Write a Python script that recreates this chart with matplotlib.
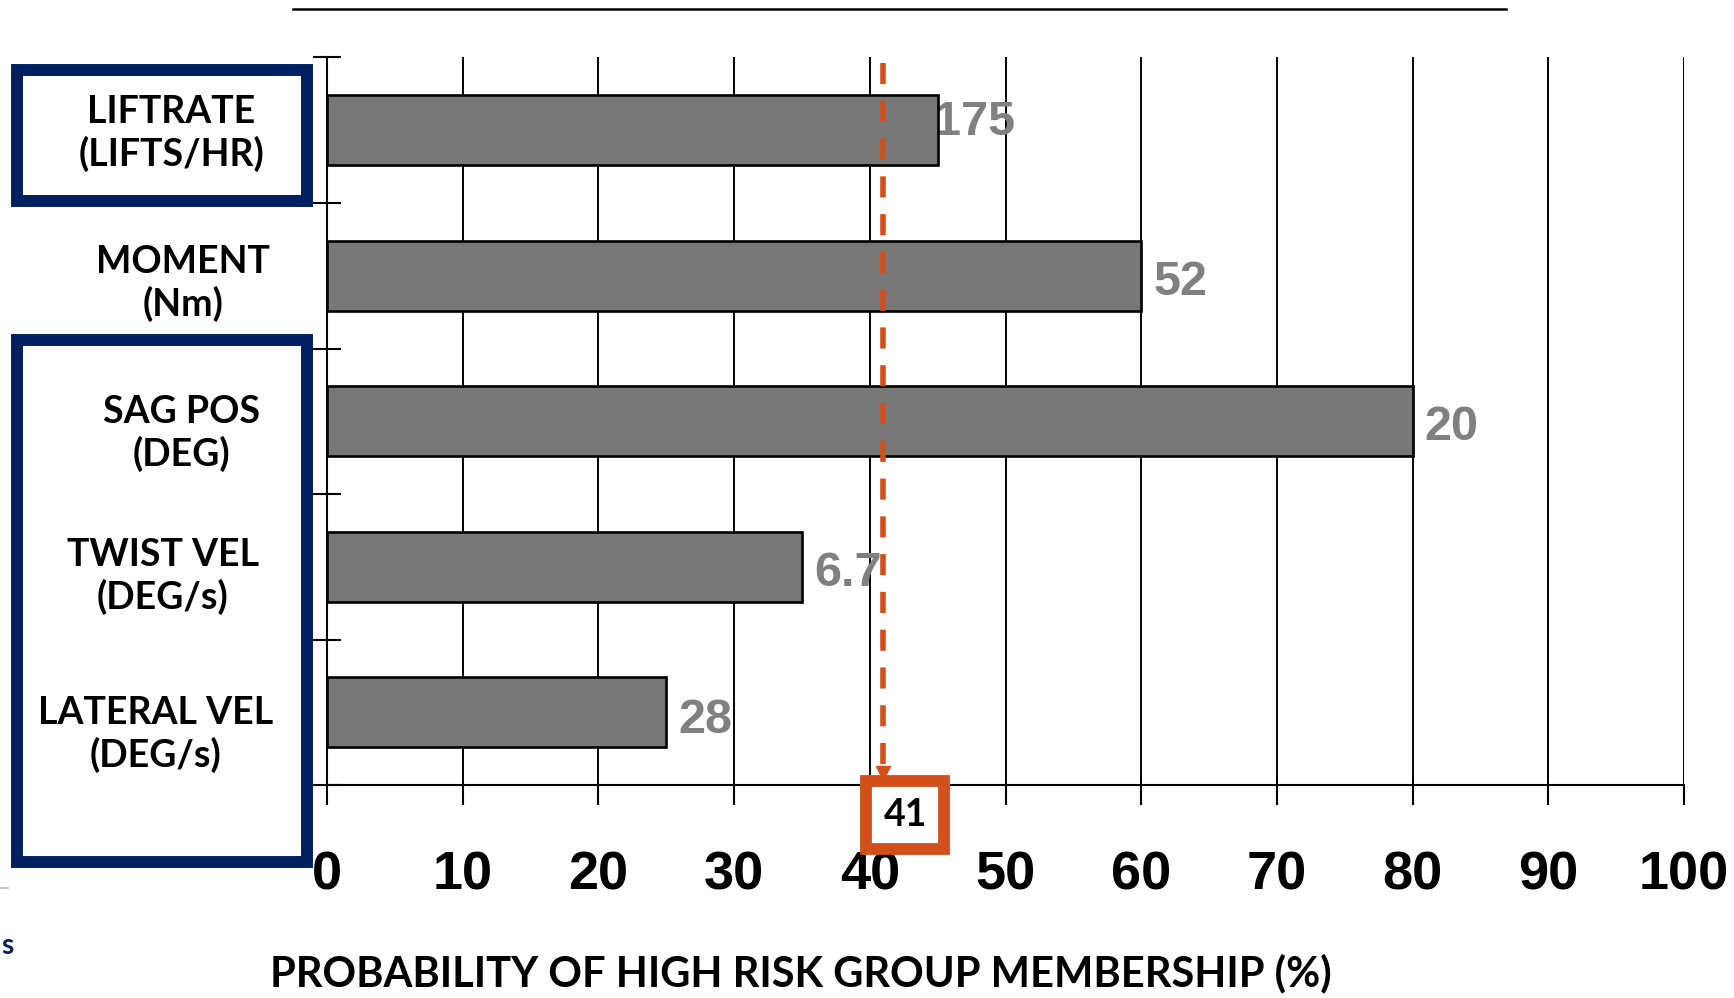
import matplotlib
matplotlib.use("Agg")
import matplotlib.pyplot as plt
from matplotlib.patches import Rectangle
from matplotlib.lines import Line2D
from matplotlib import font_manager

# ---- data ----
categories = ["LIFTRATE\n(LIFTS/HR)", "MOMENT\n(Nm)", "SAG POS\n(DEG)",
              "TWIST VEL\n(DEG/s)", "LATERAL VEL\n(DEG/s)"]
probability = [45, 60, 80, 35, 25]          # % probability of high-risk group
thresholds = ["175", "52", "20", "6.7", "28"]
overall_threshold = 41
x_ticks = [0, 10, 20, 30, 40, 50, 60, 70, 80, 90, 100]
x_label = "PROBABILITY OF HIGH RISK GROUP MEMBERSHIP (%)"

# ---- styling ----
NAVY = "#002060"
ORANGE = "#D24F1A"
BAR = "#777777"
VALUE_GREY = "#808080"

names = {f.name for f in font_manager.fontManager.ttflist}
TICK_FONT = ["Liberation Sans Narrow", "Liberation Sans", "DejaVu Sans"] \
    if "Liberation Sans Narrow" in names else ["Liberation Sans", "DejaVu Sans"]
LABEL_FONT = ["Lato", "DejaVu Sans"]

fig = plt.figure(figsize=(17.34, 9.98), dpi=100)
ax = fig.add_axes([0.1886, 0.2134, 0.7826, 0.729])

ypos = list(range(len(categories)))
ax.barh(ypos, probability, height=0.48, color=BAR, edgecolor="black",
        linewidth=1.9, zorder=3)

ax.set_xlim(0, 100)
ax.set_ylim(len(categories) - 0.5, -0.5)

# vertical grid lines
for xv in x_ticks:
    ax.axvline(xv, color="black", linewidth=1.4, zorder=1)

for s in ["top", "right"]:
    ax.spines[s].set_visible(False)
ax.spines["left"].set_linewidth(1.5)
ax.spines["bottom"].set_linewidth(1.5)

ax.set_xticks(x_ticks)
ax.set_xticklabels([str(v) for v in x_ticks], family=TICK_FONT,
                   fontweight="bold", fontsize=39)
ax.tick_params(axis="x", direction="out", length=14.5, width=1.5, pad=33)
ax.set_yticks([i - 0.5 for i in range(len(categories) + 1)])
ax.set_yticklabels([])
ax.tick_params(axis="y", direction="inout", length=20, width=1.5)

# threshold values at the end of each bar
label_dx = [-0.3, 0.9, 0.9, 0.9, 0.9]
label_dy = [-0.055, 0.045, 0.045, 0.045, 0.055]
for y, v, t, dx, dy in zip(ypos, probability, thresholds, label_dx, label_dy):
    ax.text(v + dx, y + dy, t, ha="left", va="center", fontsize=35,
            fontweight="bold", color=VALUE_GREY,
            family=["Liberation Sans", "DejaVu Sans"], zorder=2.5)

# overall cut-off line with arrow down to the boxed value
ax.plot([overall_threshold, overall_threshold], [-0.46, 4.40],
        color=ORANGE, linewidth=4, dashes=(3.8, 3.0), zorder=5,
        solid_capstyle="butt", clip_on=False)
ax.plot([overall_threshold], [4.42], marker="v", markersize=10,
        color=ORANGE, zorder=5, clip_on=False)

box_x = ax.transData.transform((overall_threshold, 0))[0]
fig_w = fig.get_size_inches()[0] * fig.dpi
bx = box_x / fig_w + 0.0125
fig.text(bx, 0.1835, str(overall_threshold), ha="center", va="center",
         fontsize=27, fontweight="bold", family=LABEL_FONT, color="black",
         zorder=10,
         bbox=dict(boxstyle="square,pad=0.45", facecolor="white",
                   edgecolor=ORANGE, linewidth=8.5))

# category labels on the left
label_pos = [(0.0989, 0.866), (0.1055, 0.716), (0.1046, 0.566),
             (0.0938, 0.422), (0.0896, 0.264)]
for (lx, ly), name in zip(label_pos, categories):
    fig.text(lx, ly, name, ha="center", va="center", fontsize=27,
             fontweight="bold", family=LABEL_FONT, linespacing=1.22)

# navy frames around the grouped variables
for (x0, y0, x1, y1) in [(17, 70, 307, 201), (17, 340, 307, 862)]:
    fig.patches.append(Rectangle((x0 / 1734, 1 - y1 / 998),
                                 (x1 - x0) / 1734, (y1 - y0) / 998,
                                 transform=fig.transFigure, fill=False,
                                 edgecolor=NAVY, linewidth=8.6, zorder=6))

# header rule
fig.add_artist(Line2D([0.169, 0.8685], [0.991, 0.991], color="black",
                      linewidth=1.8, transform=fig.transFigure))
fig.add_artist(Line2D([0.0, 0.0046], [0.110, 0.110], color="#bbbbbb",
                      linewidth=1.2, transform=fig.transFigure))
fig.text(0.0005, 0.052, "s", ha="left", va="center", fontsize=20,
         fontweight="bold", color=NAVY, family=LABEL_FONT)

fig.text(0.462, 0.025, x_label, ha="center", va="center", fontsize=30,
         fontweight="bold", family=LABEL_FONT)

fig.savefig("out.png", dpi=100, facecolor="white")
